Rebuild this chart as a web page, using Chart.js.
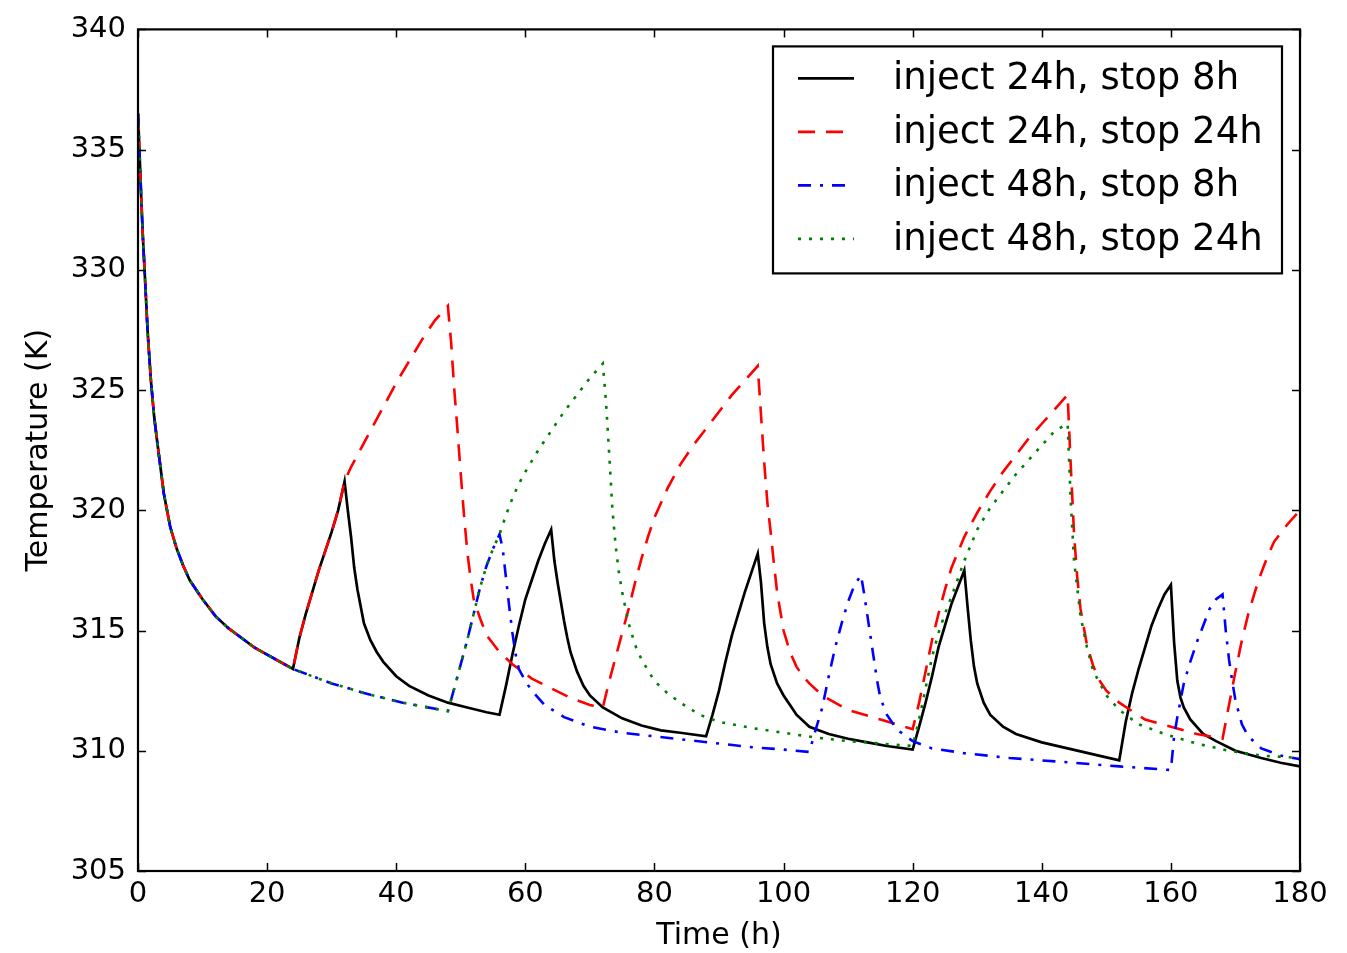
<!DOCTYPE html>
<html lang="en">
<head>
<meta charset="UTF-8">
<title>Temperature vs time</title>
<script src="https://cdn.jsdelivr.net/npm/chart.js"></script>
<style>
  html, body { margin: 0; padding: 0; background: #fff; }
  #chart { display: block; }
</style>
</head>
<body>
<canvas id="chart" width="1347" height="953"></canvas>
<script>
  // values (time in h, temperature in K)
  const seriesLabels = ['inject 24h, stop 8h', 'inject 24h, stop 24h', 'inject 48h, stop 8h', 'inject 48h, stop 24h'];
  const xTickValues = [0, 20, 40, 60, 80, 100, 120, 140, 160, 180];
  const yTickValues = [305, 310, 315, 320, 325, 330, 335, 340];

  const time24x8 = [0,0.25,0.5,0.75,1,1.5,2,2.5,3,4,5,6,7,8,10,12,14,16,18,20,22,24,
    25,26,27,28,29,30,31,32,
    32.5,33,33.5,34,35,36,37,38,40,42,45,48,51,54,56,
    57,58,59,60,61,62,63,64,
    64.5,65,65.5,66,66.5,67,68,69,70,72,75,78,81,84,88,
    89,90,91,92,93,94,95,96,
    96.5,97,97.5,98,99,100,101,102,104,107,110,113,116,120,
    121,122,123,124,125,126,127,128,
    128.5,129,129.5,130,131,132,134,136,140,144,148,152,
    153,154,155,156,157,158,159,160,
    160.5,161,161.5,162,163,165,167,170,174,177,180];
  const temp24x8 = [336.5,334.8,333.0,331.4,330.1,327.4,325.4,323.9,322.8,320.7,319.3,318.4,317.7,317.1,316.3,315.6,315.1,314.7,314.3,314.0,313.7,313.4,
    314.7,315.7,316.6,317.5,318.3,319.1,320.0,321.2,
    320.0,318.9,317.6,316.7,315.3,314.6,314.1,313.7,313.1,312.7,312.3,312.0,311.8,311.6,311.5,
    312.7,314.0,315.2,316.3,317.1,317.9,318.6,319.2,
    317.9,317.0,316.2,315.4,314.7,314.1,313.3,312.7,312.3,311.8,311.35,311.05,310.85,310.75,310.6,
    311.5,312.5,313.7,314.8,315.7,316.6,317.4,318.2,
    317.0,315.3,314.3,313.6,312.8,312.3,311.9,311.5,311.0,310.7,310.5,310.35,310.2,310.05,
    311.0,312.0,313.1,314.3,315.2,316.1,316.8,317.5,
    316.0,314.6,313.5,312.8,312.0,311.5,311.0,310.7,310.35,310.1,309.85,309.6,
    311.2,312.4,313.4,314.3,315.2,315.9,316.5,316.9,
    314.5,312.9,312.2,311.8,311.3,310.7,310.4,310.0,309.7,309.5,309.35];

  const time24x24 = [0,0.25,0.5,0.75,1,1.5,2,2.5,3,4,5,6,7,8,10,12,14,16,18,20,22,24,
    25,26,27,28,29,30,31,32,
    33,34,36,38,40,42,44,46,48,
    48.5,49,49.5,50,50.5,51,51.5,52,53,54,56,58,61,64,67,70,72,
    73,74,75,76,77,78,79,80,82,84,86,88,90,92,94,96,
    96.5,97,97.5,98,98.5,99,100,101,102,103,104,106,110,115,120,
    121,122,123,124,125,126,128,130,132,134,136,138,140,142,144,
    144.5,145,145.5,146,147,148,149,150,152,156,160,164,168,
    169,170,171,172,173,174,175,176,178,180];
  const temp24x24 = [336.5,334.8,333.0,331.4,330.1,327.4,325.4,323.9,322.8,320.7,319.3,318.4,317.7,317.1,316.3,315.6,315.1,314.7,314.3,314.0,313.7,313.4,
    314.7,315.7,316.6,317.5,318.3,319.1,320.0,321.2,
    321.8,322.3,323.3,324.3,325.3,326.2,327.1,327.9,328.5,
    327.0,325.0,323.3,321.5,319.8,318.3,317.2,316.3,315.5,314.8,314.1,313.6,313.0,312.6,312.2,311.9,311.8,
    312.9,313.9,314.9,315.9,317.0,318.0,318.9,319.7,320.9,321.9,322.7,323.4,324.1,324.8,325.4,326.0,
    324.0,322.0,320.3,319.1,317.8,316.6,315.0,314.1,313.5,313.1,312.8,312.3,311.7,311.3,310.9,
    312.0,313.3,314.6,315.7,316.7,317.6,318.9,319.9,320.8,321.6,322.3,323.0,323.6,324.2,324.8,
    321.8,319.0,317.2,315.9,314.4,313.5,312.9,312.5,312.0,311.3,311.0,310.7,310.5,
    311.9,313.3,314.6,315.7,316.6,317.4,318.1,318.7,319.4,320.0];

  const time48x8 = [0,0.25,0.5,0.75,1,1.5,2,2.5,3,4,5,6,7,8,10,12,14,16,18,20,22,24,
    26,28,30,32,35,38,41,44,48,
    49,50,51,52,53,54,55,56,
    56.5,57,57.5,58,58.5,59,60,61,63,66,70,75,80,85,90,95,100,104,
    105,106,107,108,109,110,111,112,
    112.5,113,113.5,114,114.5,115,116,117,118,120,123,128,135,145,152,160,
    160.5,161,162,163,164,165,166,167,168,
    168.5,169,169.5,170,171,172,174,177,180];
  const temp48x8 = [336.5,334.8,333.0,331.4,330.1,327.4,325.4,323.9,322.8,320.7,319.3,318.4,317.7,317.1,316.3,315.6,315.1,314.7,314.3,314.0,313.7,313.4,
    313.2,313.0,312.8,312.65,312.4,312.2,312.0,311.85,311.65,
    312.6,313.6,314.6,315.7,316.8,317.7,318.4,319.0,
    318.4,317.2,316.0,314.9,314.0,313.4,312.9,312.5,311.9,311.4,311.0,310.75,310.6,310.45,310.3,310.15,310.05,309.95,
    310.9,311.8,313.1,314.3,315.3,316.2,316.9,317.3,
    316.5,315.6,314.7,313.8,312.9,312.2,311.5,311.1,310.8,310.4,310.1,309.9,309.7,309.5,309.35,309.2,
    310.6,311.4,312.8,313.7,314.5,315.2,315.9,316.3,316.5,
    315.0,313.8,312.9,312.1,311.1,310.6,310.1,309.8,309.65];

  const time48x24 = [0,0.25,0.5,0.75,1,1.5,2,2.5,3,4,5,6,7,8,10,12,14,16,18,20,22,24,
    26,28,30,32,35,38,41,44,48,
    49,50,51,52,53,54,55,56,
    57,58,59,60,62,64,66,68,70,72,
    72.5,73,73.5,74,74.5,75,76,77,78,80,82,84,87,90,95,100,105,110,115,120,
    121,122,123,124,125,126,128,130,132,134,136,138,140,142,144,
    144.5,145,146,147,148,150,152,155,159,164,169,174,180];
  const temp48x24 = [336.5,334.8,333.0,331.4,330.1,327.4,325.4,323.9,322.8,320.7,319.3,318.4,317.7,317.1,316.3,315.6,315.1,314.7,314.3,314.0,313.7,313.4,
    313.2,313.0,312.8,312.65,312.4,312.2,312.0,311.85,311.65,
    312.6,313.6,314.6,315.7,316.8,317.7,318.4,319.0,
    319.8,320.5,321.1,321.6,322.5,323.3,324.1,324.8,325.5,326.1,
    324.5,322.3,320.0,318.5,317.4,316.6,315.3,314.4,313.8,312.9,312.4,312.0,311.5,311.2,310.95,310.75,310.55,310.4,310.3,310.2,
    311.3,312.6,313.9,314.9,315.7,316.4,317.9,319.2,320.1,320.8,321.5,322.1,322.7,323.3,323.6,
    320.3,317.9,315.6,314.3,313.3,312.3,311.7,311.1,310.7,310.3,310.0,309.8,309.7];

  function toPoints(xs, ys) {
    return xs.map((x, i) => ({ x: x, y: ys[i] }));
  }

  Chart.defaults.font.family = '"DejaVu Sans", sans-serif';
  Chart.defaults.color = '#000';

  // frame with inward ticks on all four sides, and the boxed legend
  const frameAndLegend = {
    id: 'frameAndLegend',
    afterDraw(chart) {
      const ctx = chart.ctx;
      const a = chart.chartArea;
      const xs = chart.scales.x, ys = chart.scales.y;
      ctx.save();
      ctx.strokeStyle = '#000';
      ctx.lineWidth = 1.5;
      ctx.beginPath();
      xTickValues.forEach(v => {
        const px = Math.round(xs.getPixelForValue(v)) + 0.5;
        ctx.moveTo(px, a.bottom); ctx.lineTo(px, a.bottom - 8);
        ctx.moveTo(px, a.top); ctx.lineTo(px, a.top + 8);
      });
      yTickValues.forEach(v => {
        const py = Math.round(ys.getPixelForValue(v)) + 0.5;
        ctx.moveTo(a.left, py); ctx.lineTo(a.left + 8, py);
        ctx.moveTo(a.right, py); ctx.lineTo(a.right - 8, py);
      });
      ctx.stroke();
      ctx.lineWidth = 2.2;
      ctx.strokeRect(a.left, a.top, a.right - a.left, a.bottom - a.top);

      // legend box
      const bx = a.left + 635, by = a.top + 17, bw = a.right - 18 - bx, bh = 227;
      ctx.fillStyle = '#fff';
      ctx.fillRect(bx, by, bw, bh);
      ctx.lineWidth = 2.2;
      ctx.strokeRect(bx, by, bw, bh);
      ctx.font = '37px "DejaVu Sans"';
      ctx.textBaseline = 'middle';
      chart.data.datasets.forEach((ds, i) => {
        const ry = by + 32 + i * 53.5;
        ctx.setLineDash(ds.borderDash || []);
        ctx.strokeStyle = ds.borderColor;
        ctx.lineWidth = ds.borderWidth;
        ctx.beginPath();
        ctx.moveTo(bx + 25, ry);
        ctx.lineTo(bx + 81, ry);
        ctx.stroke();
        ctx.setLineDash([]);
        ctx.fillStyle = '#000';
        ctx.fillText(ds.label, bx + 120, ry + 1);
      });
      ctx.restore();
    }
  };

  new Chart(document.getElementById('chart'), {
    type: 'line',
    data: {
      datasets: [
        { label: seriesLabels[0], data: toPoints(time24x8, temp24x8), borderColor: '#000000', borderWidth: 2.7, order: 4 },
        { label: seriesLabels[1], data: toPoints(time24x24, temp24x24), borderColor: '#ff0000', borderWidth: 2.6, borderDash: [17, 11], order: 3 },
        { label: seriesLabels[2], data: toPoints(time48x8, temp48x8), borderColor: '#0000ff', borderWidth: 2.6, borderDash: [13, 9, 3, 9], order: 2 },
        { label: seriesLabels[3], data: toPoints(time48x24, temp48x24), borderColor: '#008000', borderWidth: 2.6, borderDash: [3, 8], order: 1 }
      ]
    },
    options: {
      responsive: false,
      animation: false,
      parsing: false,
      layout: { padding: { top: 28, right: 47, bottom: 0, left: 0 } },
      elements: { point: { radius: 0 }, line: { tension: 0, fill: false } },
      plugins: { legend: { display: false }, tooltip: { enabled: false } },
      scales: {
        x: {
          type: 'linear', min: 0, max: 180,
          grid: { display: false, drawTicks: false },
          border: { display: false },
          ticks: { stepSize: 20, padding: 6, font: { size: 29 }, color: '#000', maxRotation: 0 },
          title: { display: true, text: 'Time (h)', font: { size: 30, lineHeight: 1 }, color: '#000', padding: { top: 0, bottom: 2 } },
          afterFit(scale) { scale.height = 82; }
        },
        y: {
          min: 305, max: 340,
          grid: { display: false, drawTicks: false },
          border: { display: false },
          ticks: { stepSize: 5, padding: 12, font: { size: 29 }, color: '#000' },
          title: { display: true, text: 'Temperature (K)', font: { size: 30 }, color: '#000', padding: { top: 21, bottom: 0 } },
          afterFit(scale) { scale.width = 138; }
        }
      }
    },
    plugins: [frameAndLegend]
  });
</script>
</body>
</html>
